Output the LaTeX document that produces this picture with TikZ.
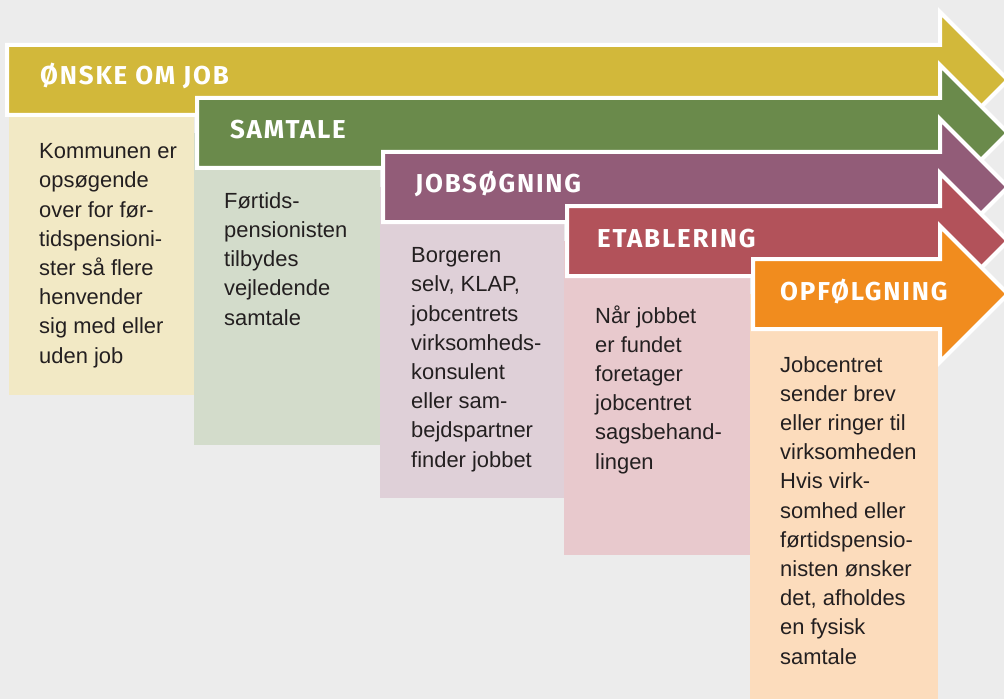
\documentclass[tikz,border=0pt]{standalone}
\usepackage{fontspec}
\setmainfont{Liberation Sans}
\newfontfamily\headfont{Fira Sans}[LetterSpace=7]
\definecolor{bgrey}{HTML}{ECECEC}
\definecolor{ink}{HTML}{231F20}
\definecolor{onskec}{HTML}{D2B83A}
\definecolor{samtalec}{HTML}{6A8A4B}
\definecolor{jobsogc}{HTML}{925C78}
\definecolor{etablc}{HTML}{B2525A}
\definecolor{opfolgc}{HTML}{F18C1E}
\definecolor{onskelt}{HTML}{F2E9C5}
\definecolor{samtalelt}{HTML}{D3DCCB}
\definecolor{jobsoglt}{HTML}{DFD0D8}
\definecolor{etabllt}{HTML}{E8C9CD}
\definecolor{opfolglt}{HTML}{FCDCBC}
\begin{document}
\begin{tikzpicture}[x=1bp,y=-1bp,
  stepbar/.style={draw=white,line width=4bp,line join=miter},
  head/.style={text=white,font=\headfont\bfseries\fontsize{26}{26}\selectfont,inner sep=0pt,anchor=base west},
  body/.style={text=ink,font=\fontsize{22}{29.3}\selectfont,align=left,inner sep=0pt,anchor=base west}]
\fill[bgrey] (0,0) rectangle (1004,699);
\useasboundingbox (0,0) rectangle (1004,699);
\clip (0,0) rectangle (1004,699);
% step 1
\fill[onskelt] (9,80) rectangle (194,395);
\filldraw[stepbar,fill=onskec] (7,45) -- (940,45) -- (940,12) -- (1008,80) -- (940,148) -- (940,115) -- (7,115) -- cycle;
\node[head] (onske) at (40,85) {ØNSKE OM JOB};
\node[body] (onsketxt) at (39,363) {Kommunen er\\opsøgende\\over for før-\\tidspensioni-\\ster så flere\\henvender\\sig med eller\\uden job};
% step 2
\fill[samtalelt] (194,133) rectangle (380,445);
\filldraw[stepbar,fill=samtalec] (197,98) -- (940,98) -- (940,65) -- (1008,133) -- (940,201) -- (940,168) -- (197,168) -- cycle;
\node[head] (samtale) at (230,139) {SAMTALE};
\node[body] (samtaletxt) at (224,325) {Førtids-\\pensionisten\\tilbydes\\vejledende\\samtale};
% step 3
\fill[jobsoglt] (380,187) rectangle (564,498);
\filldraw[stepbar,fill=jobsogc] (383,152) -- (940,152) -- (940,119) -- (1008,187) -- (940,255) -- (940,222) -- (383,222) -- cycle;
\node[head] (jobsog) at (415,193) {JOBSØGNING};
\node[body] (jobsogtxt) at (411,467) {Borgeren\\selv, KLAP,\\jobcentrets\\virksomheds-\\konsulent\\eller sam-\\bejdspartner\\finder jobbet};
% step 4
\fill[etabllt] (564,241) rectangle (750,555);
\filldraw[stepbar,fill=etablc] (567,206) -- (940,206) -- (940,173) -- (1008,241) -- (940,309) -- (940,276) -- (567,276) -- cycle;
\node[head] (etabl) at (597,247) {ETABLERING};
\node[body] (etabltxt) at (595,469) {Når jobbet\\er fundet\\foretager\\jobcentret\\sagsbehand-\\lingen};
% step 5
\fill[opfolglt] (750,294) rectangle (938,699);
\filldraw[stepbar,fill=opfolgc] (753,259) -- (940,259) -- (940,226) -- (1008,294) -- (940,362) -- (940,329) -- (753,329) -- cycle;
\node[head] (opfolg) at (780,300) {OPFØLGNING};
\node[body] (opfolgtxt) at (780,664) {Jobcentret\\sender brev\\eller ringer til\\virksomheden\\Hvis virk-\\somhed eller\\førtidspensio-\\nisten ønsker\\det, afholdes\\en fysisk\\samtale};
\end{tikzpicture}
\end{document}
